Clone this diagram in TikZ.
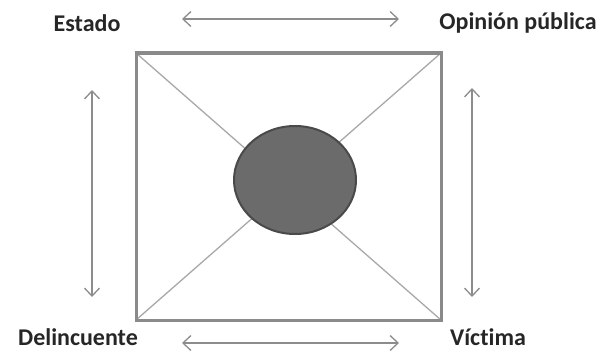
\documentclass[tikz,border=0pt]{standalone}
\usepackage{fontspec}
\setmainfont[Ligatures=NoCommon]{Carlito}
\usepackage{tikz}
\usetikzlibrary{positioning,arrows.meta,shapes.geometric}
\definecolor{marco}{HTML}{8A8A8A}
\definecolor{diag}{HTML}{A8A8A8}
\definecolor{flecha}{HTML}{8C8C8C}
\definecolor{nucleo}{HTML}{6B6B6B}
\definecolor{borde}{HTML}{4A4A4A}

\begin{document}
\begin{tikzpicture}[
  x=1pt,y=-1pt,
  every node/.style={font=\fontsize{24}{29}\selectfont\bfseries,text=black!85},
  flechas/.style={flecha,line width=1.3pt,{Straight Barb[length=8pt,width=15pt]}-{Straight Barb[length=8pt,width=15pt]}},
  diagonal/.style={diag,line width=1.3pt}
]
  \useasboundingbox (0,0) rectangle (604,353);

  % actores
  \node (estado)  at (87,23)  {Estado};
  \node (opinion) at (518,23) {Opinión pública};
  \node (delinc)  at (78,337) {Delincuente};
  \node (victima) at (488,337) {Víctima};

  % esquinas del cuadrado
  \coordinate (ne) at (441,53);
  \coordinate (no) at (136,53);
  \coordinate (so) at (136,320);
  \coordinate (se) at (441,320);

  % diagonales
  \draw[diagonal] (no) -- (se);
  \draw[diagonal] (ne) -- (so);

  % marco
  \draw[marco,line width=3pt] (no) rectangle (se);

  % centro
  \node[draw=borde,fill=nucleo,line width=2pt,ellipse,
        minimum width=122pt,minimum height=108pt,inner sep=0pt]
    (centro) at (295,180) {};

  % relaciones
  \coordinate (a1) at (182,19);  \coordinate (a2) at (399,19);
  \coordinate (b1) at (182,343); \coordinate (b2) at (399,343);
  \coordinate (i1) at (92,90);   \coordinate (i2) at (92,297);
  \coordinate (d1) at (472,88);  \coordinate (d2) at (472,297);
  \draw[flechas] (a1) -- (a2);
  \draw[flechas] (b1) -- (b2);
  \draw[flechas] (i1) -- (i2);
  \draw[flechas] (d1) -- (d2);
\end{tikzpicture}
\end{document}
